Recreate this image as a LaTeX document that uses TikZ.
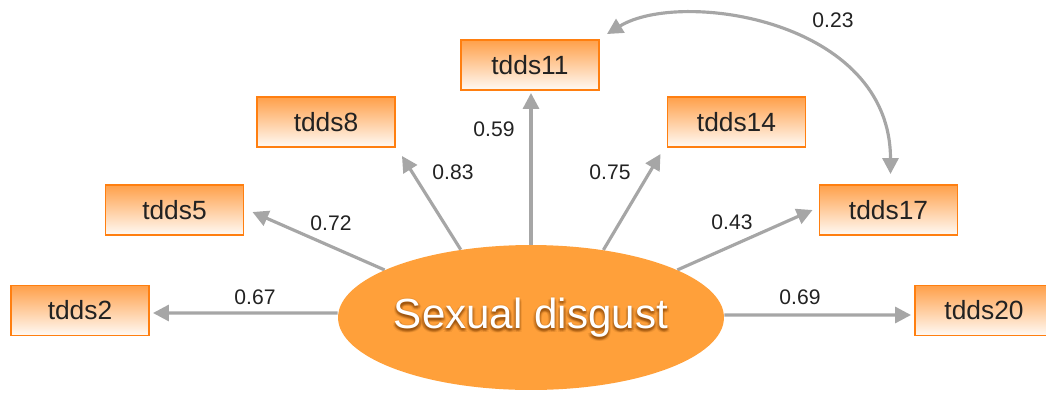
\documentclass[tikz,border=0pt]{standalone}
\usepackage{fontspec}
\setmainfont{Liberation Sans}
\usetikzlibrary{arrows.meta,shapes.geometric}

\definecolor{boxline}{HTML}{FF7F10}
\definecolor{boxtop}{HTML}{FFA04A}
\definecolor{boxbot}{HTML}{FFFAF5}
\definecolor{factor}{HTML}{FFA03A}
\definecolor{pathgrey}{HTML}{A6A6A6}
\definecolor{txt}{HTML}{222222}
\definecolor{glow}{HTML}{7A3A00}

\tikzset{
  item/.style={draw=boxline, line width=1.1pt, top color=boxtop, bottom color=boxbot,
    minimum width=2.76cm, minimum height=1cm, inner sep=0pt,
    font=\fontsize{15}{18}\selectfont, text=txt},
  latent/.style={ellipse, fill=factor, draw=none, minimum width=7.72cm,
    minimum height=2.9cm, inner sep=0pt},
  loading/.style={draw=pathgrey, line width=1.8pt,
    -{Triangle[length=9pt,width=9pt]}},
  covar/.style={draw=pathgrey, line width=1.8pt,
    {Triangle[length=9pt,width=9pt]}-{Triangle[length=9pt,width=9pt]}},
  coef/.style={font=\fontsize{12}{14}\selectfont, text=txt, inner sep=0pt},
  bigtxt/.style={font=\fontsize{24}{28}\selectfont, inner sep=0pt}
}

\begin{document}
\begin{tikzpicture}[x=0.02cm, y=-0.02cm]
\useasboundingbox (0,0) rectangle (1046,393);

% indicator boxes
\node[item] (tdds2)  at (80,310.5)  {tdds2};
\node[item] (tdds5)  at (174.5,210) {tdds5};
\node[item] (tdds8)  at (326,122)   {tdds8};
\node[item] (tdds11) at (530,65)    {tdds11};
\node[item] (tdds14) at (736.5,122) {tdds14};
\node[item] (tdds17) at (888.5,210) {tdds17};
\node[item] (tdds20) at (984,310.5) {tdds20};

% outline of the latent factor, used as anchor for the paths
\coordinate (c) at (531,317.5);
\node[latent, fill=none] (E) at (c) {};

% factor loadings
\draw[loading] (E.west |- 0,313) -- ([shift={(3,2.5)}]tdds2.east);
\draw[loading] (E.162) -- ([shift={(8,2)}]tdds5.east);
\draw[loading] (E.136) -- ([shift={(6,8)}]tdds8.south east);
\draw[loading] (E.north) -- ([shift={(1,2)}]tdds11.south);
\draw[loading] (E.43) -- ([shift={(-6,6)}]tdds14.south west);
\draw[loading] (E.18) -- ([shift={(-6,0)}]tdds17.west);
\draw[loading] (E.east |- 0,315) -- ([shift={(-3,4.5)}]tdds20.west);

% residual covariance
\draw[covar] ([shift={(7,-5)}]tdds11.north east)
  .. controls +(73,-45) and +(0,-155) .. ([shift={(2,-10)}]tdds17.north);

% latent factor; its name carries a soft dark shadow
\node[latent] (F) at (c) {};
\foreach \dx/\dy in {0/0,1.5/0,-1.5/0,0/1.5,0/-1.5,1.2/1.2,-1.2/1.2,1.2/-1.2,-1.2/-1.2,2.5/0,-2.5/0,0/2.5,0/-2.5,2/2,-2/2}
  \node[bigtxt, text=glow, opacity=0.10] at ([shift={(\dx,\dy+2)}]F.center) {Sexual disgust};
\node[bigtxt, text=white] (lab) at (F.center) {Sexual disgust};

% coefficients
\node[coef] (l2)  at (255,297) {0.67};
\node[coef] (l5)  at (331,223) {0.72};
\node[coef] (l8)  at (453,172) {0.83};
\node[coef] (l11) at (494,129) {0.59};
\node[coef] (l14) at (610,172) {0.75};
\node[coef] (l17) at (732,222) {0.43};
\node[coef] (l20) at (800,297) {0.69};
\node[coef] (lc)  at (833,20)  {0.23};
\end{tikzpicture}
\end{document}
